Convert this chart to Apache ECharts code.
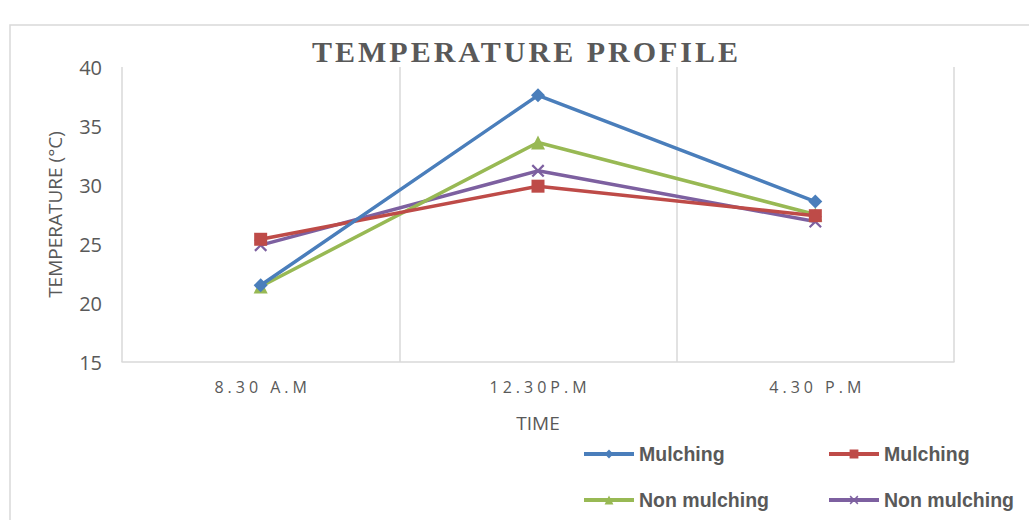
<!DOCTYPE html>
<html>
<head>
<meta charset="utf-8">
<script src="https://cdn.jsdelivr.net/npm/echarts@6/dist/echarts.min.js"></script>
<style>
html,body{margin:0;padding:0;background:#fff;}
#chart{width:1029px;height:520px;}
</style>
</head>
<body>
<div id="chart"></div>
<script>
var categories = ['8.30 A.M', '12.30P.M', '4.30 P.M'];
var seriesNames = ['Mulching', 'Mulching', 'Non mulching', 'Non mulching'];
var mulchingA = [21.5, 37.6, 28.6];
var mulchingB = [25.4, 29.9, 27.4];
var nonMulchingA = [21.4, 33.6, 27.5];
var nonMulchingB = [24.9, 31.2, 26.9];
var yTicks = [15, 20, 25, 30, 35, 40];

var colors = ['#4a7ebb', '#be4b48', '#98b954', '#7d60a0'];
var xPath = 'path://M0,1.2L1.2,0L5,3.8L8.8,0L10,1.2L6.2,5L10,8.8L8.8,10L5,6.2L1.2,10L0,8.8L3.8,5Z';
var symbols = ['diamond', 'rect', 'triangle', xPath];
var symbolSizes = [14, 13, 14, 13];
var dataSets = [mulchingA, mulchingB, nonMulchingA, nonMulchingB];
var ids = ['s0', 's1', 's2', 's3'];

var chart = echarts.init(document.getElementById('chart'), null, {renderer: 'svg'});

var series = dataSets.map(function (d, i) {
  return {
    name: ids[i],
    type: 'line',
    data: d,
    symbol: symbols[i],
    symbolSize: symbolSizes[i],
    lineStyle: {width: 3.5, color: colors[i]},
    itemStyle: {color: colors[i]},
    emphasis: {disabled: true},
    z: 10 - i
  };
});

var legendPos = [
  {left: 582, top: 444},
  {left: 827, top: 444},
  {left: 582, top: 490},
  {left: 827, top: 490}
];
var legends = ids.map(function (id, i) {
  return {
    data: [id],
    left: legendPos[i].left,
    top: legendPos[i].top,
    padding: 0,
    itemWidth: 50,
    itemHeight: 11,
    itemGap: 4,
    lineStyle: {width: 4},
    formatter: function () { return seriesNames[i]; },
    textStyle: {fontSize: 19.5, fontWeight: 'bold', color: '#595959', fontFamily: 'Liberation Sans, Arial, sans-serif'},
    selectedMode: false
  };
});

var FONT = '"Open Sans", "Liberation Sans", sans-serif';

chart.setOption({
  animation: false,
  color: colors,
  title: {
    text: 'TEMPERATURE PROFILE',
    left: 'center',
    top: 31,
    textStyle: {fontFamily: 'Liberation Serif, Times New Roman, serif', fontWeight: 'bold', fontSize: 30, color: '#595959'}
  },
  graphic: [{
    type: 'rect',
    shape: {x: 10, y: 25, width: 1040, height: 520},
    style: {fill: 'none', stroke: '#d9d9d9', lineWidth: 1.5},
    silent: true
  }],
  legend: legends,
  grid: {left: 122, right: 75, top: 67, bottom: 158, containLabel: false},
  xAxis: {
    type: 'category',
    data: categories,
    boundaryGap: true,
    name: 'TIME',
    nameLocation: 'middle',
    nameGap: 51,
    nameTextStyle: {fontSize: 19, color: '#595959', fontFamily: FONT},
    axisLine: {lineStyle: {color: '#d9d9d9', width: 1.5}},
    axisTick: {show: false},
    axisLabel: {fontSize: 16, color: '#595959', margin: 17, fontFamily: FONT},
    splitLine: {show: true, lineStyle: {color: '#d9d9d9', width: 1.5}}
  },
  yAxis: {
    type: 'value',
    min: yTicks[0],
    max: yTicks[yTicks.length - 1],
    interval: 5,
    name: 'TEMPERATURE (°C)',
    nameLocation: 'middle',
    nameGap: 58,
    nameTextStyle: {fontSize: 19, color: '#595959', fontFamily: FONT},
    axisLine: {show: false},
    axisTick: {show: false},
    axisLabel: {fontSize: 20, color: '#595959', margin: 20, fontFamily: FONT},
    splitLine: {show: false}
  },
  series: series
});

// letter spacing (as in the original) applied to the rendered SVG text
function spaceText(match, spacing, targetCenterX) {
  var texts = document.querySelectorAll('#chart svg text');
  texts.forEach(function (el) {
    var t = el.textContent;
    if (match.indexOf(t) < 0) return;
    var r0 = el.getBoundingClientRect();
    var c0 = r0.left + r0.width / 2;
    el.style.letterSpacing = spacing + 'px';
    var r1 = el.getBoundingClientRect();
    var c1 = r1.left + r1.width / 2 - spacing / 2;
    var target = (targetCenterX != null) ? targetCenterX : c0;
    el.setAttribute('dx', target - c1);
  });
}
spaceText(['TEMPERATURE PROFILE'], 3, 525);
spaceText(categories, 4);
</script>
</body>
</html>
